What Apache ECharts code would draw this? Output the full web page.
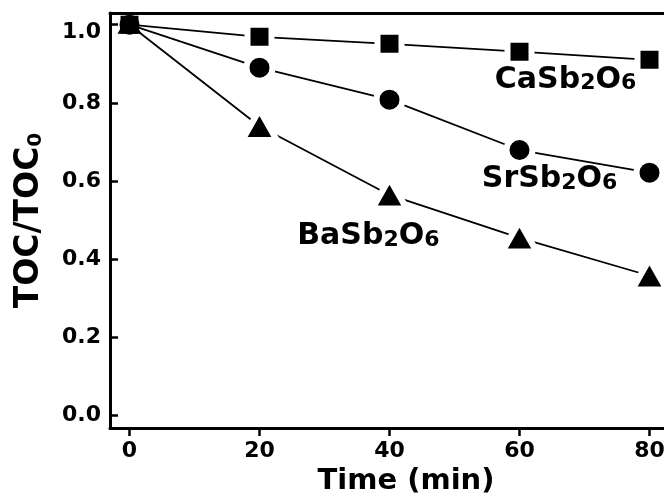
<!DOCTYPE html>
<html><head><meta charset="utf-8">
<script src="https://cdn.jsdelivr.net/npm/echarts@6/dist/echarts.min.js"></script>
<style>html,body{margin:0;padding:0;background:#fff}#c{width:664px;height:494px}</style>
</head><body><div id="c"></div>
<script>
// ---- data ----
const times = [0, 20, 40, 60, 80];
const caSb2O6 = [1.0, 0.969, 0.951, 0.931, 0.910];
const srSb2O6 = [1.0, 0.890, 0.808, 0.679, 0.621];
const baSb2O6 = [1.0, 0.740, 0.564, 0.454, 0.357];
const xTicks = [0, 20, 40, 60, 80];
const yTicks = [0, 0.2, 0.4, 0.6, 0.8, 1.0];
const seriesLabels = ['{m|CaSb}{s|2}{m|O}{s|6}', '{m|SrSb}{s|2}{m|O}{s|6}', '{m|BaSb}{s|2}{m|O}{s|6}'];
const labelAnchors = [[56.2, 0.859], [54.2, 0.603], [25.8, 0.459]];
const xTitle = 'Time (min)';
const yTitle = '{m|TOC/TOC}{s|0}';

// ---- chart ----
const FONT = 'DejaVu Sans';
const chart = echarts.init(document.getElementById('c'), null, {renderer: 'canvas'});

function mkData(vals) {
  return times.map((t, i) => i === 0
    ? {value: [t, vals[i]], itemStyle: {borderWidth: 0}}
    : [t, vals[i]]);
}
function mkSeries(name, vals, symbol, vis, halo, offset) {
  return {
    name, type: 'line', data: mkData(vals), symbol,
    symbolSize: (v, p) => {
      if (p.dataIndex === 0) return vis;
      return Array.isArray(vis) ? [vis[0] + halo[0], vis[1] + halo[1]] : vis + halo;
    },
    symbolOffset: offset || [0, 0],
    showAllSymbol: true,
    lineStyle: {color: '#000', width: 1.8},
    itemStyle: {color: '#000', borderColor: '#fff', borderWidth: 6, borderJoin: 'round'},
    emphasis: {disabled: true},
    z: 3
  };
}

const option = {
  animation: false,
  backgroundColor: '#fff',
  grid: {left: 110, top: 13, width: 559, height: 415, show: false,
         containLabel: false, outerBoundsMode: 'none'},
  xAxis: [{
    type: 'value', min: -3, max: 83,
    axisLine: {show: true, onZero: false, lineStyle: {color: '#000', width: 3}},
    axisTick: {show: true, customValues: xTicks, length: 8, lineStyle: {color: '#000', width: 2.5}},
    axisLabel: {customValues: xTicks, color: '#000', fontFamily: FONT, fontWeight: 'bold', fontSize: 22, margin: 12},
    splitLine: {show: false},
    name: xTitle, nameLocation: 'middle', nameGap: 31,
    nameTextStyle: {color: '#000', fontFamily: FONT, fontWeight: 'bold', fontSize: 29, padding: [0, 0, 0, 33]}
  }, {
    type: 'value', min: -3, max: 83, position: 'top',
    axisLine: {show: true, onZero: false, lineStyle: {color: '#000', width: 3}},
    axisTick: {show: false}, axisLabel: {show: false}, splitLine: {show: false}
  }],
  yAxis: {
    type: 'value', min: -0.033, max: 1.03,
    axisLine: {show: true, onZero: false, lineStyle: {color: '#000', width: 3}},
    axisTick: {show: true, inside: true, customValues: yTicks, length: 8, lineStyle: {color: '#000', width: 2.5}},
    axisLabel: {customValues: yTicks, color: '#000', fontFamily: FONT, fontWeight: 'bold', fontSize: 22, margin: 9,
      formatter: v => Math.abs(v - 1) < 1e-9 ? '{t|1.0}' : v.toFixed(1),
      rich: {t: {fontFamily: FONT, fontWeight: 'bold', fontSize: 22, color: '#000', padding: [16, 0, 0, 0]}}},
    splitLine: {show: false},
    name: yTitle, nameLocation: 'middle', nameGap: 64, nameRotate: 90,
    nameTextStyle: {color: '#000', fontFamily: FONT, fontWeight: 'bold', fontSize: 33,
      rich: {m: {fontFamily: FONT, fontWeight: 'bold', fontSize: 33, lineHeight: 34, color: '#000'},
             s: {fontFamily: FONT, fontWeight: 'bold', fontSize: 20, lineHeight: 14, verticalAlign: 'bottom', color: '#000'}}}
  },
  series: [
    mkSeries('CaSb2O6', caSb2O6, 'rect', 18, 6),
    mkSeries('SrSb2O6', srSb2O6, 'circle', 20, 6),
    mkSeries('BaSb2O6', baSb2O6, 'triangle', [24, 21], [10, 9], [0, -1.5])
  ]
};
chart.setOption(option);

const richLbl = {
  m: {fontFamily: FONT, fontWeight: 'bold', fontSize: 30, lineHeight: 30, fill: '#000'},
  s: {fontFamily: FONT, fontWeight: 'bold', fontSize: 22, lineHeight: 8, verticalAlign: 'bottom', fill: '#000'}
};
const graphics = labelAnchors.map((a, i) => {
  const p = chart.convertToPixel({gridIndex: 0}, a);
  return {type: 'text', x: p[0], y: p[1], z: 10,
    style: {text: seriesLabels[i], rich: richLbl, align: 'left', verticalAlign: 'middle',
      fontFamily: FONT, fontWeight: 'bold', fontSize: 30, fill: '#000'}};
});
chart.setOption({graphic: graphics});
</script>
</body></html>
